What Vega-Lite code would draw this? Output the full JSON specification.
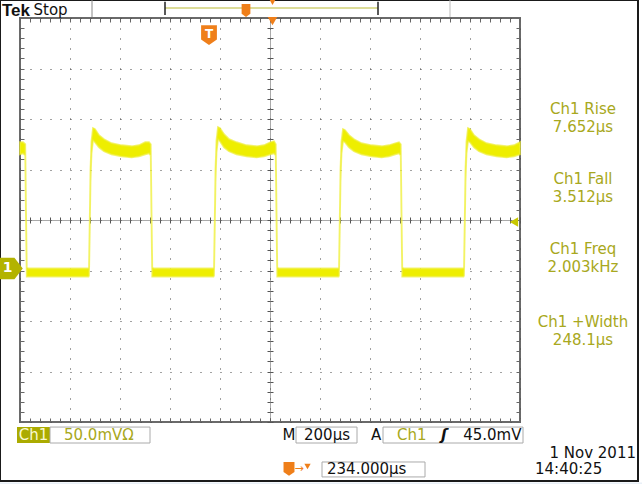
{
"$schema": "https://vega.github.io/schema/vega-lite/v6.json",
"width": 500, "height": 404,
"autosize": "none",
"padding": {"left": 20, "top": 18, "right": 122, "bottom": 62},
"background": "white",
"data": {"values": [{}]},
"config": {
 "view": {"stroke": "#6a6a6a", "strokeWidth": 2},
 "axis": {"labels": false, "ticks": false, "domain": false, "grid": false},
 "text": {"font": "DejaVu Sans", "fontSize": 15}
},
"resolve": {"axis": {"x": "independent", "y": "independent"}},
"layer": [
 {"mark": {"type": "rect", "filled": false, "stroke": "#1a1a1a", "strokeWidth": 2},
  "encoding": {"x": {"datum": -80, "axis": null}, "x2": {"datum": 2472}, "y": {"datum": 267.8, "axis": null}, "y2": {"datum": -208.4}}},
 {"mark": {"type": "rect", "fill": "#e9f0f7"},
  "encoding": {"x": {"datum": -90, "axis": null}, "x2": {"datum": 2490}, "y": {"datum": -209.8, "axis": null}, "y2": {"datum": -216}}},
 {"data": {"values": [
  {"t": 0, "hi": 127, "lo": 115}, {"t": 12, "hi": 127, "lo": 116}, {"t": 21, "hi": 125, "lo": 114}, {"t": 24, "hi": 60, "lo": 50}, {"t": 27, "hi": 3, "lo": -6}, {"t": 34, "hi": 2, "lo": -6},
  {"t": 274, "hi": 2, "lo": -6}, {"t": 276, "hi": 3, "lo": -5}, {"t": 279, "hi": 50, "lo": 40}, {"t": 282, "hi": 100, "lo": 88}, {"t": 286, "hi": 128, "lo": 116}, {"t": 292, "hi": 141, "lo": 129}, {"t": 300, "hi": 140, "lo": 127}, {"t": 316, "hi": 134, "lo": 122}, {"t": 336, "hi": 130, "lo": 118}, {"t": 366, "hi": 126, "lo": 115}, {"t": 406, "hi": 124, "lo": 113}, {"t": 446, "hi": 123, "lo": 112}, {"t": 476, "hi": 124, "lo": 113}, {"t": 501, "hi": 127, "lo": 115}, {"t": 516, "hi": 127, "lo": 116}, {"t": 523, "hi": 125, "lo": 114}, {"t": 526, "hi": 60, "lo": 50}, {"t": 529, "hi": 3, "lo": -6}, {"t": 536, "hi": 2, "lo": -6},
  {"t": 774, "hi": 2, "lo": -6}, {"t": 776, "hi": 3, "lo": -5}, {"t": 779, "hi": 50, "lo": 40}, {"t": 782, "hi": 100, "lo": 88}, {"t": 786, "hi": 129, "lo": 117}, {"t": 792, "hi": 142, "lo": 130}, {"t": 800, "hi": 141, "lo": 128}, {"t": 816, "hi": 135, "lo": 122}, {"t": 836, "hi": 130, "lo": 118}, {"t": 866, "hi": 127, "lo": 115}, {"t": 906, "hi": 124, "lo": 113}, {"t": 946, "hi": 123, "lo": 112}, {"t": 976, "hi": 124, "lo": 113}, {"t": 1001, "hi": 127, "lo": 115}, {"t": 1016, "hi": 128, "lo": 116}, {"t": 1023, "hi": 125, "lo": 114}, {"t": 1026, "hi": 60, "lo": 50}, {"t": 1029, "hi": 3, "lo": -6}, {"t": 1036, "hi": 2, "lo": -6},
  {"t": 1274, "hi": 2, "lo": -6}, {"t": 1276, "hi": 3, "lo": -5}, {"t": 1279, "hi": 50, "lo": 40}, {"t": 1282, "hi": 100, "lo": 88}, {"t": 1286, "hi": 128, "lo": 116}, {"t": 1292, "hi": 140, "lo": 128}, {"t": 1300, "hi": 139, "lo": 127}, {"t": 1316, "hi": 134, "lo": 122}, {"t": 1336, "hi": 130, "lo": 118}, {"t": 1366, "hi": 126, "lo": 115}, {"t": 1406, "hi": 124, "lo": 113}, {"t": 1446, "hi": 123, "lo": 112}, {"t": 1476, "hi": 124, "lo": 113}, {"t": 1501, "hi": 126, "lo": 115}, {"t": 1516, "hi": 127, "lo": 116}, {"t": 1523, "hi": 125, "lo": 114}, {"t": 1526, "hi": 60, "lo": 50}, {"t": 1529, "hi": 3, "lo": -6}, {"t": 1536, "hi": 2, "lo": -6},
  {"t": 1774, "hi": 2, "lo": -6}, {"t": 1776, "hi": 3, "lo": -5}, {"t": 1779, "hi": 50, "lo": 40}, {"t": 1782, "hi": 100, "lo": 88}, {"t": 1786, "hi": 128, "lo": 116}, {"t": 1792, "hi": 141, "lo": 128}, {"t": 1800, "hi": 140, "lo": 127}, {"t": 1816, "hi": 134, "lo": 122}, {"t": 1836, "hi": 130, "lo": 118}, {"t": 1866, "hi": 126, "lo": 115}, {"t": 1906, "hi": 124, "lo": 113}, {"t": 1946, "hi": 123, "lo": 112}, {"t": 1976, "hi": 124, "lo": 113}, {"t": 2000, "hi": 127, "lo": 115}
 ]},
  "mark": {"type": "area", "fill": "#eeee00", "stroke": "#eeee30", "strokeWidth": 1.8, "strokeOpacity": 0.7},
  "encoding": {
   "x": {"field": "t", "type": "quantitative", "scale": {"domain": [0, 2000], "nice": false, "zero": false},
    "axis": {"orient": "bottom", "title": null, "values": [0,200,400,600,800,1000,1200,1400,1600,1800,2000], "grid": true, "gridDash": [1, 9], "gridColor": "#444"}},
   "y": {"field": "hi", "type": "quantitative", "scale": {"domain": [-150, 250], "nice": false, "zero": false},
    "axis": {"orient": "left", "title": null, "values": [-150,-100,-50,0,50,100,150,200,250], "grid": true, "gridDash": [1, 9], "gridColor": "#444"}},
   "y2": {"field": "lo"}
  }},
 {"mark": {"type": "text", "text": "Ch1 Rise", "fill": "#a8a820", "align": "center", "baseline": "middle"},
  "encoding": {
   "x": {"datum": 2252, "axis": {"orient": "bottom", "offset": -202, "title": null, "ticks": true, "tickSize": 3, "tickColor": "#555", "domain": true, "domainDash": [1, 1], "domainColor": "#555",
     "values": [0,40,80,120,160,200,240,280,320,360,400,440,480,520,560,600,640,680,720,760,800,840,880,920,960,1000,1040,1080,1120,1160,1200,1240,1280,1320,1360,1400,1440,1480,1520,1560,1600,1640,1680,1720,1760,1800,1840,1880,1920,1960,2000]}},
   "y": {"datum": 160, "axis": {"orient": "left", "offset": -250, "title": null, "ticks": true, "tickSize": 3, "tickColor": "#555", "domain": true, "domainDash": [1, 1], "domainColor": "#555",
     "values": [-150,-140,-130,-120,-110,-100,-90,-80,-70,-60,-50,-40,-30,-20,-10,0,10,20,30,40,50,60,70,80,90,100,110,120,130,140,150,160,170,180,190,200,210,220,230,240,250]}}
  }},
 {"mark": {"type": "text", "text": "Ch1 Fall", "fill": "#a8a820", "align": "center", "baseline": "middle"},
  "encoding": {
   "x": {"datum": 2252, "axis": {"orient": "top", "offset": -202, "title": null, "ticks": true, "tickSize": 3, "tickColor": "#555",
     "values": [0,40,80,120,160,200,240,280,320,360,400,440,480,520,560,600,640,680,720,760,800,840,880,920,960,1000,1040,1080,1120,1160,1200,1240,1280,1320,1360,1400,1440,1480,1520,1560,1600,1640,1680,1720,1760,1800,1840,1880,1920,1960,2000]}},
   "y": {"datum": 90.6, "axis": {"orient": "right", "offset": -250, "title": null, "ticks": true, "tickSize": 3, "tickColor": "#555",
     "values": [-150,-140,-130,-120,-110,-100,-90,-80,-70,-60,-50,-40,-30,-20,-10,0,10,20,30,40,50,60,70,80,90,100,110,120,130,140,150,160,170,180,190,200,210,220,230,240,250]}}
  }},
 {"mark": {"type": "text", "text": "Ch1 Freq", "fill": "#a8a820", "align": "center", "baseline": "middle"},
  "encoding": {
   "x": {"datum": 2252, "axis": {"orient": "bottom", "offset": -4, "title": null, "ticks": true, "tickSize": 4, "tickColor": "#666",
     "values": [0,40,80,120,160,200,240,280,320,360,400,440,480,520,560,600,640,680,720,760,800,840,880,920,960,1000,1040,1080,1120,1160,1200,1240,1280,1320,1360,1400,1440,1480,1520,1560,1600,1640,1680,1720,1760,1800,1840,1880,1920,1960,2000]}},
   "y": {"datum": 21.3, "axis": {"orient": "left", "offset": -4, "title": null, "ticks": true, "tickSize": 4, "tickColor": "#666",
     "values": [-150,-140,-130,-120,-110,-100,-90,-80,-70,-60,-50,-40,-30,-20,-10,0,10,20,30,40,50,60,70,80,90,100,110,120,130,140,150,160,170,180,190,200,210,220,230,240,250]}}
  }},
 {"mark": {"type": "text", "text": "Ch1 +Width", "fill": "#a8a820", "align": "center", "baseline": "middle"},
  "encoding": {
   "x": {"datum": 2252, "axis": {"orient": "top", "offset": -4, "title": null, "ticks": true, "tickSize": 4, "tickColor": "#666",
     "values": [0,40,80,120,160,200,240,280,320,360,400,440,480,520,560,600,640,680,720,760,800,840,880,920,960,1000,1040,1080,1120,1160,1200,1240,1280,1320,1360,1400,1440,1480,1520,1560,1600,1640,1680,1720,1760,1800,1840,1880,1920,1960,2000]}},
   "y": {"datum": -51, "axis": {"orient": "right", "offset": -4, "title": null, "ticks": true, "tickSize": 4, "tickColor": "#666",
     "values": [-150,-140,-130,-120,-110,-100,-90,-80,-70,-60,-50,-40,-30,-20,-10,0,10,20,30,40,50,60,70,80,90,100,110,120,130,140,150,160,170,180,190,200,210,220,230,240,250]}}
  }},
 {"mark": {"type": "text", "text": "7.652µs", "fill": "#a8a820", "align": "center", "baseline": "middle"},
  "encoding": {"x": {"datum": 2252, "axis": null}, "y": {"datum": 142, "axis": null}}},
 {"mark": {"type": "text", "text": "3.512µs", "fill": "#a8a820", "align": "center", "baseline": "middle"},
  "encoding": {"x": {"datum": 2252, "axis": null}, "y": {"datum": 72.8, "axis": null}}},
 {"mark": {"type": "text", "text": "2.003kHz", "fill": "#a8a820", "align": "center", "baseline": "middle"},
  "encoding": {"x": {"datum": 2252, "axis": null}, "y": {"datum": 3.5, "axis": null}}},
 {"mark": {"type": "text", "text": "248.1µs", "fill": "#a8a820", "align": "center", "baseline": "middle"},
  "encoding": {"x": {"datum": 2252, "axis": null}, "y": {"datum": -68.8, "axis": null}}},

 {"mark": {"type": "text", "text": "Tek", "font": "Liberation Sans", "fontWeight": "bold", "fontSize": 17, "fill": "#111", "align": "left", "baseline": "middle"},
  "encoding": {"x": {"datum": -72, "axis": null}, "y": {"datum": 257.2, "axis": null}}},
 {"mark": {"type": "text", "text": "Stop", "fill": "#111", "align": "left", "baseline": "middle"},
  "encoding": {"x": {"datum": 54, "axis": null}, "y": {"datum": 257.5, "axis": null}}},
 {"mark": {"type": "rule", "stroke": "#888", "strokeWidth": 1},
  "encoding": {"x": {"datum": 288, "axis": null}, "y": {"datum": 267.8, "axis": null}, "y2": {"datum": 251}}},
 {"mark": {"type": "rule", "stroke": "#bbb", "strokeWidth": 1},
  "encoding": {"x": {"datum": 1720, "axis": null}, "y": {"datum": 267.8, "axis": null}, "y2": {"datum": 251}}},
 {"mark": {"type": "rule", "stroke": "#dcdc98", "strokeWidth": 2},
  "encoding": {"x": {"datum": 580, "axis": null}, "x2": {"datum": 1432}, "y": {"datum": 260, "axis": null}}},
 {"mark": {"type": "rule", "stroke": "#222", "strokeWidth": 1.5},
  "encoding": {"x": {"datum": 580, "axis": null}, "y": {"datum": 266, "axis": null}, "y2": {"datum": 253}}},
 {"mark": {"type": "rule", "stroke": "#222", "strokeWidth": 1.5},
  "encoding": {"x": {"datum": 1432, "axis": null}, "y": {"datum": 266, "axis": null}, "y2": {"datum": 253}}},
 {"mark": {"type": "point", "shape": "M-0.8,-1.2L0.8,-1.2L0.8,0.6L0,1.2L-0.8,0.6Z", "size": 120, "filled": true, "fill": "#ef7f1a", "opacity": 1, "strokeWidth": 0},
  "encoding": {"x": {"datum": 904, "axis": null}, "y": {"datum": 257.4, "axis": null}}},
 {"mark": {"type": "point", "shape": "triangle-down", "size": 50, "filled": true, "fill": "#ef7f1a", "opacity": 1, "strokeWidth": 0},
  "encoding": {"x": {"datum": 1010, "axis": null}, "y": {"datum": 266, "axis": null}}},

 {"mark": {"type": "point", "shape": "triangle-down", "size": 90, "filled": true, "fill": "#ef7f1a", "opacity": 1, "strokeWidth": 0},
  "encoding": {"x": {"datum": 1010, "axis": null}, "y": {"datum": 247, "axis": null}}},
 {"mark": {"type": "point", "shape": "M-1,-1.25L1,-1.25L1,0.55L0,1.25L-1,0.55Z", "size": 250, "filled": true, "fill": "#ef7f1a", "opacity": 1, "strokeWidth": 0},
  "encoding": {"x": {"datum": 756, "axis": null}, "y": {"datum": 233, "axis": null}}},
 {"mark": {"type": "text", "text": "T", "fontWeight": "bold", "fontSize": 12, "fill": "white", "align": "center", "baseline": "middle"},
  "encoding": {"x": {"datum": 756, "axis": null}, "y": {"datum": 234, "axis": null}}},
 {"mark": {"type": "point", "shape": "triangle-left", "size": 90, "filled": true, "fill": "#c8c800", "opacity": 1, "strokeWidth": 0},
  "encoding": {"x": {"datum": 1976, "axis": null}, "y": {"datum": 48, "axis": null}}},
 {"mark": {"type": "point", "shape": "M-1,-0.85L0.35,-0.85L1,0L0.35,0.85L-1,0.85Z", "size": 650, "filled": true, "fill": "#b3b300", "opacity": 1, "strokeWidth": 0},
  "encoding": {"x": {"datum": -40, "axis": null}, "y": {"datum": 2, "axis": null}}},
 {"mark": {"type": "text", "text": "1", "fontWeight": "bold", "fontSize": 14, "fill": "white", "align": "center", "baseline": "middle"},
  "encoding": {"x": {"datum": -50, "axis": null}, "y": {"datum": 2, "axis": null}}},

 {"mark": {"type": "rect", "fill": "#abab00"},
  "encoding": {"x": {"datum": -12, "axis": null}, "x2": {"datum": 120}, "y": {"datum": -155, "axis": null}, "y2": {"datum": -170.8}}},
 {"mark": {"type": "text", "text": "Ch1", "fill": "#f8f8d0", "align": "center", "baseline": "middle"},
  "encoding": {"x": {"datum": 54, "axis": null}, "y": {"datum": -163, "axis": null}}},
 {"mark": {"type": "rect", "filled": false, "stroke": "#aaa", "strokeWidth": 1},
  "encoding": {"x": {"datum": 120, "axis": null}, "x2": {"datum": 520}, "y": {"datum": -155, "axis": null}, "y2": {"datum": -170.8}}},
 {"mark": {"type": "text", "text": "50.0mVΩ", "fill": "#a8a820", "align": "left", "baseline": "middle"},
  "encoding": {"x": {"datum": 176, "axis": null}, "y": {"datum": -163, "axis": null}}},
 {"mark": {"type": "text", "text": "M", "fill": "#111", "align": "center", "baseline": "middle"},
  "encoding": {"x": {"datum": 1076, "axis": null}, "y": {"datum": -163, "axis": null}}},
 {"mark": {"type": "rect", "filled": false, "stroke": "#aaa", "strokeWidth": 1},
  "encoding": {"x": {"datum": 1104, "axis": null}, "x2": {"datum": 1348}, "y": {"datum": -155, "axis": null}, "y2": {"datum": -170.8}}},
 {"mark": {"type": "text", "text": "200µs", "fill": "#111", "align": "center", "baseline": "middle"},
  "encoding": {"x": {"datum": 1228, "axis": null}, "y": {"datum": -163, "axis": null}}},
 {"mark": {"type": "text", "text": "A", "fill": "#111", "align": "center", "baseline": "middle"},
  "encoding": {"x": {"datum": 1424, "axis": null}, "y": {"datum": -163, "axis": null}}},
 {"mark": {"type": "rect", "filled": false, "stroke": "#aaa", "strokeWidth": 1},
  "encoding": {"x": {"datum": 1452, "axis": null}, "x2": {"datum": 2012}, "y": {"datum": -155, "axis": null}, "y2": {"datum": -170.8}}},
 {"mark": {"type": "text", "text": "Ch1", "fill": "#a8a820", "align": "left", "baseline": "middle"},
  "encoding": {"x": {"datum": 1508, "axis": null}, "y": {"datum": -163, "axis": null}}},
 {"mark": {"type": "text", "text": "ʃ", "fill": "#111", "fontWeight": "bold", "fontStyle": "italic", "align": "center", "baseline": "middle"},
  "encoding": {"x": {"datum": 1696, "axis": null}, "y": {"datum": -163, "axis": null}}},
 {"mark": {"type": "text", "text": "45.0mV", "fill": "#111", "align": "right", "baseline": "middle"},
  "encoding": {"x": {"datum": 2006, "axis": null}, "y": {"datum": -163, "axis": null}}},

 {"mark": {"type": "point", "shape": "M-1,-1.25L1,-1.25L1,0.55L0,1.25L-1,0.55Z", "size": 120, "filled": true, "fill": "#ef7f1a", "opacity": 1, "strokeWidth": 0},
  "encoding": {"x": {"datum": 1076, "axis": null}, "y": {"datum": -196.5, "axis": null}}},
 {"mark": {"type": "text", "text": "→", "fill": "#ef7f1a", "fontSize": 11, "align": "center", "baseline": "middle"},
  "encoding": {"x": {"datum": 1116, "axis": null}, "y": {"datum": -196.5, "axis": null}}},
 {"mark": {"type": "point", "shape": "triangle-down", "size": 40, "filled": true, "fill": "#ef7f1a", "opacity": 1, "strokeWidth": 0},
  "encoding": {"x": {"datum": 1150, "axis": null}, "y": {"datum": -194, "axis": null}}},
 {"mark": {"type": "rect", "filled": false, "stroke": "#aaa", "strokeWidth": 1},
  "encoding": {"x": {"datum": 1208, "axis": null}, "x2": {"datum": 1620}, "y": {"datum": -189.6, "axis": null}, "y2": {"datum": -204.4}}},
 {"mark": {"type": "text", "text": "234.000µs", "fill": "#111", "align": "left", "baseline": "middle"},
  "encoding": {"x": {"datum": 1228, "axis": null}, "y": {"datum": -197, "axis": null}}},
 {"mark": {"type": "text", "text": "1 Nov 2011", "fill": "#111", "align": "right", "baseline": "middle"},
  "encoding": {"x": {"datum": 2464, "axis": null}, "y": {"datum": -180.7, "axis": null}}},
 {"mark": {"type": "text", "text": "14:40:25", "fill": "#111", "align": "left", "baseline": "middle"},
  "encoding": {"x": {"datum": 2060, "axis": null}, "y": {"datum": -196.5, "axis": null}}}
]
}
